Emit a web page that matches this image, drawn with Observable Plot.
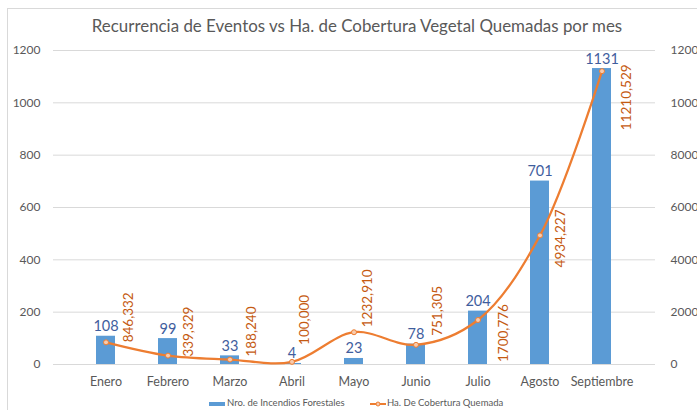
<!DOCTYPE html>
<html><head><meta charset="utf-8">
<script src="https://cdn.jsdelivr.net/npm/d3@7"></script>
<script src="https://cdn.jsdelivr.net/npm/@observablehq/plot@0.6"></script>
<style>
html,body{margin:0;padding:0;background:#fff;overflow:hidden}
#wrap{position:relative;width:697px;height:410px;font-family:Lato,"Open Sans",sans-serif;overflow:hidden}
#frame{position:absolute;left:7px;top:8px;width:720px;height:440px;border:1px solid #d9d9d9;box-sizing:border-box}
#title{position:absolute;left:0;top:15px;width:714px;text-align:center;font-size:16.9px;color:#595959}
#chart{position:absolute;left:0;top:0}
#legend{position:absolute;top:397px;left:0;width:697px;font-size:9.5px;color:#595959}
.li{position:absolute;top:0;white-space:nowrap}
</style></head>
<body><div id="wrap"><div id="frame"></div><div id="chart"></div><div id="title">Recurrencia de Eventos vs Ha. de Cobertura Vegetal Quemadas por mes</div>
<div id="legend">
<span class="li" style="left:209px"><span style="display:inline-block;width:16px;height:4px;background:#5B9BD5;vertical-align:middle;margin-right:2px"></span>Nro. de Incendios Forestales</span>
<span class="li" style="left:370px"><svg width="16" height="8" style="vertical-align:middle;margin-right:1px"><line x1="0" y1="4" x2="16" y2="4" stroke="#ED7D31" stroke-width="2"/><circle cx="8" cy="4" r="2" fill="#f8cbad" stroke="#ED7D31" stroke-width="1"/></svg>Ha. De Cobertura Quemada</span>
</div></div>
<script>
const months = ["Enero","Febrero","Marzo","Abril","Mayo","Junio","Julio","Agosto","Septiembre"];
const incendios = [108, 99, 33, 4, 23, 78, 204, 701, 1131];
const hectareas = [846.332, 339.329, 188.240, 100.000, 1232.910, 751.305, 1700.776, 4934.227, 11210.529];
const leftTicks = [0, 200, 400, 600, 800, 1000, 1200];
const rightTicks = [0, 2000, 4000, 6000, 8000, 10000, 12000];
// label nudges (screen px) for the rotated hectare labels, as placed in the original
const labelDy = [0, 1, -3, -17, -5, -9, 42, 32, 59];
const labelDx = [23, 21, 22, 13, 14, 22, 26, 21, 25];

const ratio = rightTicks[rightTicks.length - 1] / leftTicks[leftTicks.length - 1];
const rows = months.map((m, i) => ({m, n: incendios[i], h: hectareas[i], hs: hectareas[i] / ratio, i}));
const fmtHa = v => v.toFixed(3).replace(".", ",");

const labelMarks = rows.map((d, i) => Plot.text([d], {
  x: "m", y: "hs", text: d => fmtHa(d.h), rotate: -90, textAnchor: "start",
  dx: labelDx[i], dy: labelDy[i], fill: "#C55A11", fontSize: 13.5
}));

const chart = Plot.plot({
  width: 697, height: 410,
  marginTop: 50, marginBottom: 46, marginLeft: 53, marginRight: 42,
  style: {fontFamily: "Lato, 'Open Sans', sans-serif", overflow: "visible", background: "transparent"},
  x: {domain: months, padding: 0.69, align: 0.5, label: null},
  y: {domain: [0, 1200], label: null},
  marks: [
    Plot.ruleY(leftTicks, {stroke: "#d9d9d9", strokeWidth: 1}),
    Plot.barY(rows, {x: "m", y: "n", fill: "#5B9BD5"}),
    Plot.line(rows, {x: "m", y: "hs", stroke: "#ED7D31", strokeWidth: 2.25, curve: "catmull-rom"}),
    Plot.dot(rows, {x: "m", y: "hs", r: 2.5, fill: "#f8cbad", stroke: "#ED7D31", strokeWidth: 1}),
    Plot.text(rows, {x: "m", y: "n", text: d => String(d.n), lineAnchor: "bottom", dy: -5, fill: "#3F5E9E", fontSize: 14.5}),
    ...labelMarks,
    Plot.axisY(leftTicks, {anchor: "left", tickSize: 0, tickPadding: 13, fontSize: 12, color: "#595959", label: null, tickFormat: d => String(d)}),
    Plot.axisY(leftTicks, {anchor: "right", tickSize: 0, tickPadding: 15, fontSize: 12, color: "#595959", label: null, tickFormat: (d, i) => String(rightTicks[i])}),
    Plot.axisX({tickSize: 0, tickPadding: 13, fontSize: 12.5, color: "#595959", label: null})
  ]
});
document.getElementById("chart").appendChild(chart);
</script>
</body></html>
